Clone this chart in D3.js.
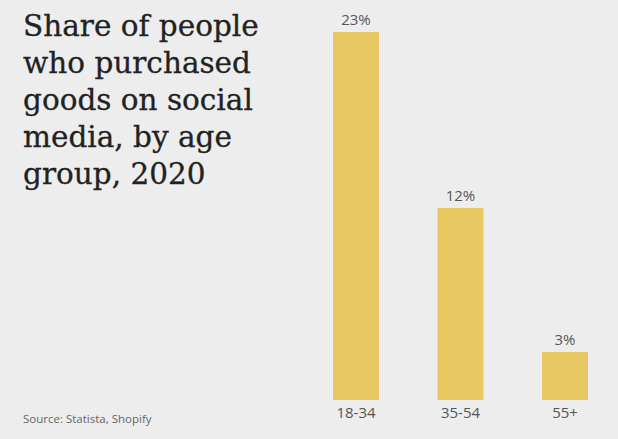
<!DOCTYPE html>
<html><head><meta charset="utf-8">
<script src="https://cdn.jsdelivr.net/npm/d3@7"></script>
<style>
html,body{margin:0;padding:0;background:#ededed;}
svg{display:block;}
</style></head>
<body>
<svg id="chart" width="618" height="439"></svg>
<script>
const categories = ["18-34", "35-54", "55+"];
const values = [23, 12, 3];
const titleLines = ["Share of people", "who purchased", "goods on social", "media, by age", "group, 2020"];
const source = "Source: Statista, Shopify";

const svg = d3.select("#chart");
const W = 618, H = 439;
svg.append("rect").attr("width", W).attr("height", H).attr("fill", "#ededed");

const x = d3.scaleBand().domain(categories).range([333, 588]).paddingInner(0.56).paddingOuter(0);
const y = d3.scaleLinear().domain([0, 23]).range([400, 32]);

svg.selectAll("rect.bar").data(values).join("rect")
  .attr("class", "bar")
  .attr("x", (d, i) => x(categories[i]))
  .attr("y", d => y(d))
  .attr("width", x.bandwidth())
  .attr("height", d => y(0) - y(d))
  .attr("fill", "#e9c863");

svg.selectAll("text.val").data(values).join("text")
  .attr("class", "val")
  .attr("x", (d, i) => x(categories[i]) + x.bandwidth() / 2)
  .attr("y", d => y(d) - 7)
  .attr("text-anchor", "middle")
  .attr("font-family", "'Open Sans', sans-serif")
  .attr("font-size", 15)
  .attr("fill", "#555")
  .text(d => d + "%");

const xAxis = d3.axisBottom(x).tickSize(0).tickPadding(0);
const gx = svg.append("g").attr("transform", "translate(0,407)").call(xAxis);
gx.select(".domain").remove();
gx.selectAll("text")
  .attr("dy", "0.71em")
  .attr("font-family", "'Open Sans', sans-serif")
  .attr("font-size", 15)
  .attr("fill", "#555");

const title = svg.append("text")
  .attr("font-family", "'DejaVu Serif', serif")
  .attr("font-size", 29.5)
  .attr("fill", "#222")
  .attr("stroke", "#222")
  .attr("stroke-width", 0.3);
titleLines.forEach((t, i) => {
  title.append("tspan").attr("x", 23).attr("y", 35.5 + i * 37).text(t);
});

svg.append("text")
  .attr("x", 23).attr("y", 423)
  .attr("font-family", "'Open Sans', sans-serif")
  .attr("font-size", 11.5)
  .attr("fill", "#666")
  .text(source);
</script>
</body></html>
